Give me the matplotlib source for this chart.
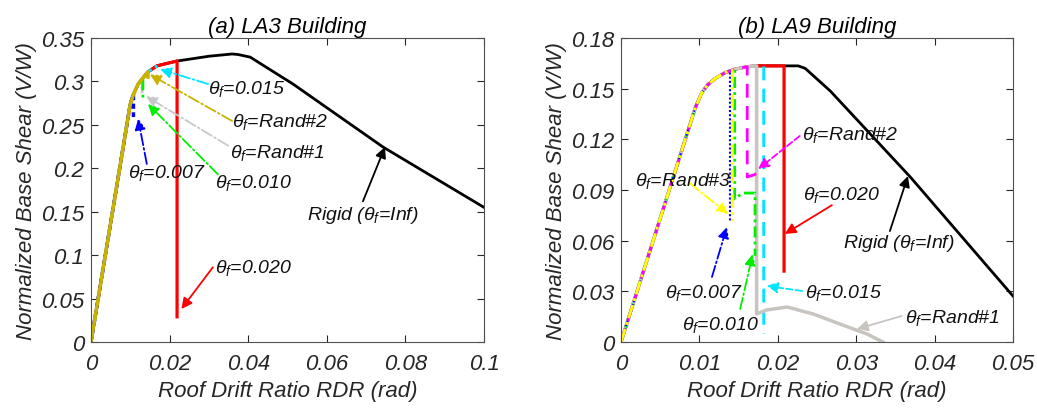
import matplotlib
matplotlib.use('Agg')
import matplotlib.pyplot as plt

plt.rcParams['font.family'] = ['Liberation Sans', 'DejaVu Sans']
plt.rcParams['font.style'] = 'italic'
plt.rcParams['mathtext.fontset'] = 'custom'
plt.rcParams['mathtext.it'] = 'Liberation Sans:italic'
plt.rcParams['mathtext.rm'] = 'Liberation Sans:italic'
plt.rcParams['mathtext.sf'] = 'Liberation Sans:italic'

# ---------------- (a) LA3 data ----------------
la3_rigid_x = [0, 0.0100, 0.0108, 0.0120, 0.0132, 0.0145, 0.0168, 0.0219, 0.0300, 0.0359, 0.0374, 0.0405, 0.0514, 0.0743, 0.1000]
la3_rigid_y = [0, 0.274, 0.285, 0.297, 0.304, 0.311, 0.318, 0.3235, 0.329, 0.3316, 0.331, 0.328, 0.297, 0.2245, 0.155]
la3_020_x = [0, 0.0100, 0.0108, 0.0120, 0.0132, 0.0145, 0.0168, 0.0219, 0.0219]
la3_020_y = [0, 0.274, 0.285, 0.297, 0.304, 0.311, 0.318, 0.3235, 0.029]
la3_015_x = [0, 0.0100, 0.0108, 0.0120, 0.0132, 0.0145, 0.0166, 0.0166]
la3_015_y = [0, 0.274, 0.285, 0.297, 0.304, 0.311, 0.3175, 0.314]
la3_r1_x = [0, 0.0100, 0.0108, 0.0120, 0.0130, 0.0130]
la3_r1_y = [0, 0.274, 0.285, 0.297, 0.3035, 0.288]
la3_010_x = [0, 0.0100, 0.0108, 0.0120, 0.0132, 0.0132]
la3_010_y = [0, 0.274, 0.285, 0.297, 0.304, 0.277]
la3_007_x = [0, 0.0100, 0.0108, 0.0108]
la3_007_y = [0, 0.274, 0.285, 0.259]
la3_r2_x = [0, 0.0100, 0.0108, 0.0120, 0.0132, 0.0145, 0.0145]
la3_r2_y = [0, 0.274, 0.285, 0.297, 0.304, 0.311, 0.305]

# ---------------- (b) LA9 data ----------------
la9_rigid_x = [0, 0.0095, 0.0103, 0.0110, 0.0120, 0.0133, 0.0142, 0.0145, 0.0161, 0.0173, 0.0182, 0.0208, 0.0226, 0.0235, 0.0267, 0.0369, 0.0500]
la9_rigid_y = [0, 0.139, 0.1475, 0.152, 0.156, 0.1595, 0.161, 0.1615, 0.163, 0.1635, 0.1635, 0.1635, 0.1635, 0.1620, 0.1486, 0.0977, 0.0272]
la9_020_x = [0, 0.0095, 0.0103, 0.0110, 0.0120, 0.0133, 0.0142, 0.0145, 0.0161, 0.0173, 0.0182, 0.0208, 0.0208]
la9_020_y = [0, 0.139, 0.1475, 0.152, 0.156, 0.1595, 0.161, 0.1615, 0.163, 0.1635, 0.1635, 0.1635, 0.042]
la9_015_x = [0, 0.0095, 0.0103, 0.0110, 0.0120, 0.0133, 0.0142, 0.0145, 0.0161, 0.0173, 0.0182, 0.0182]
la9_015_y = [0, 0.139, 0.1475, 0.152, 0.156, 0.1595, 0.161, 0.1615, 0.163, 0.1635, 0.1635, 0.005]
la9_r1_x = [0, 0.0095, 0.0103, 0.0110, 0.0120, 0.0133, 0.0142, 0.0145, 0.0161, 0.0173, 0.0173, 0.0186, 0.0212, 0.0245, 0.0279, 0.0314, 0.0334]
la9_r1_y = [0, 0.139, 0.1475, 0.152, 0.156, 0.1595, 0.161, 0.1615, 0.163, 0.1635, 0.0166, 0.0190, 0.0207, 0.0166, 0.0107, 0.0047, 0.0]
la9_r2_x = [0, 0.0095, 0.0103, 0.0110, 0.0120, 0.0133, 0.0142, 0.0145, 0.0161, 0.0161, 0.0170, 0.0177]
la9_r2_y = [0, 0.139, 0.1475, 0.152, 0.156, 0.1595, 0.161, 0.1615, 0.163, 0.0977, 0.0990, 0.1010]
la9_010_x = [0, 0.0095, 0.0103, 0.0110, 0.0120, 0.0133, 0.0142, 0.0145, 0.0145, 0.0155, 0.0171, 0.0171]
la9_010_y = [0, 0.139, 0.1475, 0.152, 0.156, 0.1595, 0.161, 0.1615, 0.0847, 0.0882, 0.0882, 0.051]
la9_007_x = [0, 0.0095, 0.0103, 0.0110, 0.0120, 0.0133, 0.0139, 0.0139]
la9_007_y = [0, 0.139, 0.1475, 0.152, 0.156, 0.1595, 0.1605, 0.071]
la9_r3_x = [0, 0.0095, 0.0103, 0.0110, 0.0120, 0.0133, 0.0142, 0.0142]
la9_r3_y = [0, 0.139, 0.1475, 0.152, 0.156, 0.1595, 0.161, 0.0716]

la3_xticks = [0, 0.02, 0.04, 0.06, 0.08, 0.1]
la3_xticklabels = ['0', '0.02', '0.04', '0.06', '0.08', '0.1']
la3_yticks = [0, 0.05, 0.1, 0.15, 0.2, 0.25, 0.3, 0.35]
la3_yticklabels = ['0', '0.05', '0.1', '0.15', '0.2', '0.25', '0.3', '0.35']
la9_xticks = [0, 0.01, 0.02, 0.03, 0.04, 0.05]
la9_xticklabels = ['0', '0.01', '0.02', '0.03', '0.04', '0.05']
la9_yticks = [0, 0.03, 0.06, 0.09, 0.12, 0.15, 0.18]
la9_yticklabels = ['0', '0.03', '0.06', '0.09', '0.12', '0.15', '0.18']

# annotations: (text, text_x, text_y, tail, head, color, linestyle)
TH = r'$\theta_f$'
la3_notes = [
    (TH + '=0.015', 0.0298, 0.293, (0.0298, 0.297), (0.0176, 0.314), '#00e5ff', '-.'),
    (TH + '=Rand#2', 0.0360, 0.254, (0.0359, 0.2545), (0.0150, 0.308), '#c8b400', '-.'),
    (TH + '=Rand#1', 0.0354, 0.219, (0.0349, 0.226), (0.0140, 0.283), '#c8c8c8', '-.'),
    (TH + '=0.010', 0.0316, 0.184, (0.0323, 0.193), (0.0145, 0.274), '#00ee00', '-.'),
    (TH + '=0.007', 0.0094, 0.196, (0.0142, 0.205), (0.0120, 0.257), '#0000ff', '-.'),
    (TH + '=0.020', 0.0316, 0.086, (0.0310, 0.086), (0.0230, 0.038), '#ff0000', '-'),
    ('Rigid (' + TH + '=Inf)', 0.0550, 0.147, (0.0692, 0.162), (0.0748, 0.2245), '#000000', '-'),
]
la9_notes = [
    (TH + '=Rand#2', 0.0231, 0.123, (0.0228, 0.122), (0.0175, 0.1024), '#ff00ff', '--'),
    (TH + '=Rand#3', 0.0018, 0.096, (0.0088, 0.0940), (0.01365, 0.0758), '#ffff00', '-.'),
    (TH + '=0.020', 0.0232, 0.0876, (0.0269, 0.081), (0.0209, 0.064), '#ff0000', '-'),
    ('Rigid (' + TH + '=Inf)', 0.0283, 0.059, (0.0343, 0.0657), (0.0366, 0.0983), '#000000', '-'),
    (TH + '=0.007', 0.0056, 0.0296, (0.0116, 0.0385), (0.0135, 0.068), '#0000ff', '-.'),
    (TH + '=0.010', 0.0078, 0.0107, (0.0152, 0.0195), (0.0168, 0.052), '#00ee00', '-.'),
    (TH + '=0.015', 0.0235, 0.0296, (0.0231, 0.0302), (0.0186, 0.0332), '#00e5ff', '--'),
    (TH + '=Rand#1', 0.0362, 0.0148, (0.0358, 0.0154), (0.0301, 0.0077), '#c8c5c0', '-'),
]

fig = plt.figure(figsize=(10.37, 4.10), dpi=100)
ax1 = fig.add_axes([0.08775, 0.16341, 0.37898, 0.74146])
ax2 = fig.add_axes([0.59884, 0.16341, 0.37801, 0.74146])

LW = 2.0
# LA3
ax1.plot(la3_rigid_x, la3_rigid_y, color='black', lw=LW)
ax1.plot(la3_020_x, la3_020_y, color='#ff0000', lw=LW + 0.3)
ax1.plot(la3_015_x, la3_015_y, color='#00e5ff', lw=LW, ls='-.')
ax1.plot(la3_r1_x, la3_r1_y, color='#c8c8c8', lw=LW)
ax1.plot(la3_010_x, la3_010_y, color='#00ee00', lw=LW, ls='-.')
ax1.plot(la3_007_x, la3_007_y, color='#0000ff', lw=LW + 0.5, ls=(0, (1.5, 1)))
ax1.plot(la3_r2_x, la3_r2_y, color='#c8b400', lw=LW + 0.5)

# LA9
ax2.plot(la9_rigid_x, la9_rigid_y, color='black', lw=LW)
ax2.plot(la9_020_x, la9_020_y, color='#ff0000', lw=LW + 0.3)
ax2.plot(la9_015_x, la9_015_y, color='#00e5ff', lw=LW, ls=(0, (5, 3)))
ax2.plot(la9_r1_x, la9_r1_y, color='#c8c5c0', lw=LW + 0.5)
ax2.plot(la9_010_x, la9_010_y, color='#00ee00', lw=LW, ls=(0, (4, 1.5, 1, 1.5)))
ax2.plot(la9_007_x, la9_007_y, color='#0000ff', lw=LW - 0.5, ls=(0, (1, 1)))
ax2.plot(la9_r2_x, la9_r2_y, color='#ff00ff', lw=LW, ls=(0, (5, 3)))
ax2.plot(la9_r3_x, la9_r3_y, color='#ffff00', lw=LW, ls=(0, (5, 1.5, 1, 1.5)))


def style(ax, xt, xtl, yt, ytl, xlim, ylim, title):
    ax.set_xlim(*xlim)
    ax.set_ylim(*ylim)
    ax.set_xticks(xt)
    ax.set_xticklabels(xtl)
    ax.set_yticks(yt)
    ax.set_yticklabels(ytl)
    ax.tick_params(direction='in', top=True, right=True, length=5, width=0.8,
                   labelsize=16, colors='#262626', labelcolor='#262626')
    ax.tick_params(axis='x', pad=8)
    ax.tick_params(axis='y', pad=5)
    for s in ax.spines.values():
        s.set_color('#505050')
        s.set_linewidth(0.8)
    ax.set_xlabel('Roof Drift Ratio RDR (rad)', fontsize=16, color='#262626', labelpad=4)
    ax.set_ylabel('Normalized Base Shear (V/W)', fontsize=16, color='#262626', labelpad=3)
    ax.set_title(title, fontsize=16, pad=4)


style(ax1, la3_xticks, la3_xticklabels, la3_yticks, la3_yticklabels, (0, 0.1), (0, 0.35), '(a) LA3 Building')
style(ax2, la9_xticks, la9_xticklabels, la9_yticks, la9_yticklabels, (0, 0.05), (0, 0.18), '(b) LA9 Building')


def notes(ax, items):
    for txt, tx, ty, tail, head, c, ls in items:
        ax.annotate('', xy=head, xytext=tail,
                    arrowprops=dict(arrowstyle='-|>', color=c, lw=1.3, linestyle=ls,
                                    mutation_scale=16, shrinkA=0, shrinkB=0))
        ax.text(tx, ty, txt, fontsize=14, ha='left', va='center', color='#111111')


notes(ax1, la3_notes)
notes(ax2, la9_notes)

fig.savefig('out.png', dpi=100)
